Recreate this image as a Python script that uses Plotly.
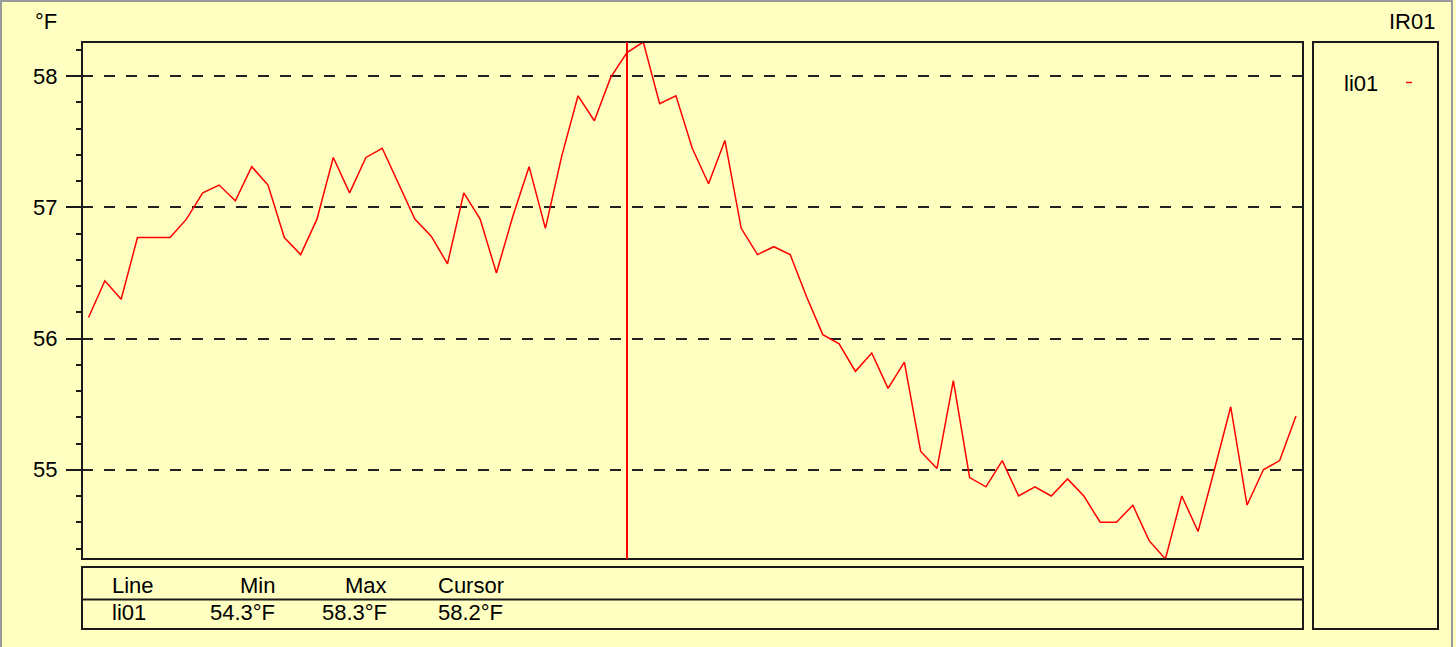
import plotly.graph_objects as go

# ---- data ----
sample_index = list(range(75))
li01_values = [
    56.16, 56.44, 56.30, 56.77, 56.77, 56.77, 56.91, 57.11, 57.17, 57.05,
    57.31, 57.17, 56.77, 56.64, 56.91, 57.38, 57.11, 57.38, 57.45, 57.18,
    56.91, 56.78, 56.57, 57.11, 56.91, 56.50, 56.93, 57.31, 56.84, 57.39,
    57.85, 57.66, 57.99, 58.18, 58.26, 57.79, 57.85, 57.45, 57.18, 57.51,
    56.84, 56.64, 56.70, 56.64, 56.32, 56.03, 55.96, 55.75, 55.89, 55.62,
    55.82, 55.14, 55.01, 55.68, 54.94, 54.87, 55.07, 54.80, 54.87, 54.80,
    54.93, 54.80, 54.60, 54.60, 54.73, 54.46, 54.32, 54.80, 54.53, 55.00,
    55.48, 54.73, 55.00, 55.07, 55.41,
]
cursor_index = 33
series_name = "li01"
unit = "°F"
chart_title = "IR01"
table_headers = ["Line", "Min", "Max", "Cursor"]

# ---- layout geometry (pixels) ----
W, H = 1456, 647
L, R, T, B = 82, 1303, 42, 559
PW, PH = R - L, B - T


def px(xp):
    return (xp - L) / PW


def py(yp):
    return (B - yp) / PH


FONT = "Liberation Sans, Arial, sans-serif"
FS = 22
BG = "#FFFFC2"
DARK = "#1a1a1a"

vmin = min(li01_values)
vmax = max(li01_values)
vcur = li01_values[cursor_index]

fig = go.Figure()
fig.add_trace(go.Scatter(
    x=sample_index, y=li01_values, mode="lines", name=series_name,
    line=dict(color="#FF0000", width=1.5), showlegend=False,
    hoverinfo="skip",
))

shapes = []
# outer grey frame
shapes.append(dict(type="rect", xref="paper", yref="paper",
                   x0=px(1), x1=px(1452), y0=py(670), y1=py(1),
                   line=dict(color="#9a9a9a", width=2), layer="below"))
# plot border
shapes.append(dict(type="rect", xref="paper", yref="paper",
                   x0=0, x1=1, y0=0, y1=1,
                   line=dict(color=DARK, width=2)))
# cursor
shapes.append(dict(type="line", xref="x", yref="paper",
                   x0=cursor_index, x1=cursor_index, y0=0, y1=1,
                   line=dict(color="#FF0000", width=2)))
# stats table
shapes.append(dict(type="rect", xref="paper", yref="paper",
                   x0=px(82), x1=px(1303), y0=py(629), y1=py(567),
                   line=dict(color=DARK, width=2)))
shapes.append(dict(type="line", xref="paper", yref="paper",
                   x0=px(82), x1=px(1303), y0=py(599.5), y1=py(599.5),
                   line=dict(color=DARK, width=2)))
# legend box
shapes.append(dict(type="rect", xref="paper", yref="paper",
                   x0=px(1313), x1=px(1438), y0=py(629), y1=py(42),
                   line=dict(color=DARK, width=2)))
# legend swatch
shapes.append(dict(type="line", xref="paper", yref="paper",
                   x0=px(1406), x1=px(1412), y0=py(82.5), y1=py(82.5),
                   line=dict(color="#FF0000", width=1.5)))


def txt(s, xp, yp, anchor):
    return dict(text=s, xref="paper", yref="paper", x=px(xp), y=py(yp),
                xanchor=anchor, yanchor="middle", showarrow=False,
                font=dict(family=FONT, size=FS, color="#000000"))


annotations = [
    txt(unit, 33, 21, "left"),
    txt(chart_title, 1437, 21, "right"),
    txt(series_name, 1342, 83, "left"),
    txt(table_headers[0], 110, 585, "left"),
    txt(table_headers[1], 277, 585, "right"),
    txt(table_headers[2], 389, 585, "right"),
    txt(table_headers[3], 436, 585, "left"),
    txt(series_name, 110, 613, "left"),
    txt(f"{vmin:.1f}{unit}", 277, 613, "right"),
    txt(f"{vmax:.1f}{unit}", 389, 613, "right"),
    txt(f"{vcur:.1f}{unit}", 436, 613, "left"),
]

fig.update_layout(
    width=W, height=H, autosize=False,
    margin=dict(l=L, r=W - R, t=T, b=H - B, pad=0),
    paper_bgcolor=BG, plot_bgcolor=BG,
    font=dict(family=FONT, size=FS, color="#000000"),
    shapes=shapes, annotations=annotations,
    xaxis=dict(range=[-0.4, 74.43], showticklabels=False, showgrid=False,
               zeroline=False, ticks="", showline=False, fixedrange=True),
    yaxis=dict(range=[vmin, vmax], tick0=55, dtick=1,
               ticks="outside", ticklen=15, tickwidth=2, tickcolor=DARK,
               showgrid=True, gridcolor="#222222", gridwidth=1.5,
               griddash="11px,11px", zeroline=False, showline=False,
               ticklabelstandoff=4,
               tickfont=dict(family=FONT, size=FS, color="#000000"),
               minor=dict(dtick=0.2, tick0=55, ticks="outside", ticklen=5,
                          tickwidth=2, tickcolor=DARK, showgrid=False),
               fixedrange=True),
)

fig.write_html("out.html", post_script="document.body.style.margin='0';",
               config={"displayModeBar": False})
